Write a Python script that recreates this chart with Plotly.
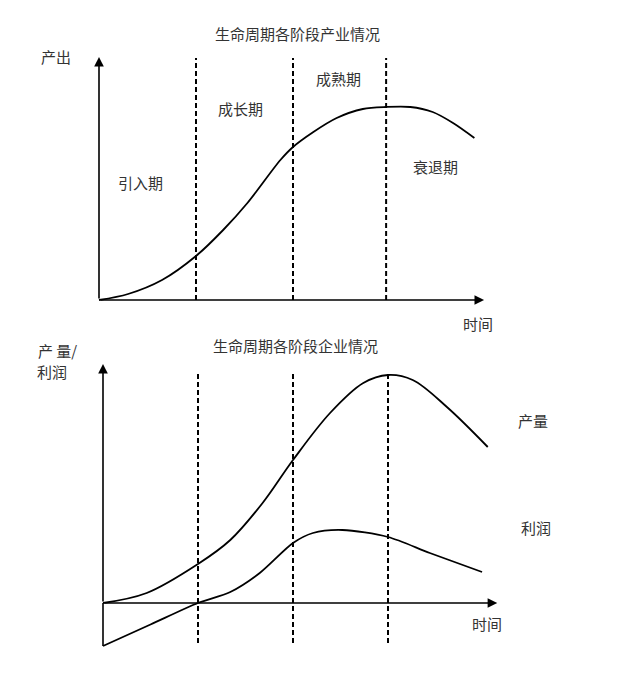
import plotly.graph_objects as go

# ---------------- data ----------------
# Top panel: industry output over the life cycle
top_t = [0, 0.30, 0.65, 1.0, 1.28, 1.53, 1.87, 2.0, 2.21, 2.45, 2.72, 2.96, 3.21, 3.44, 3.65, 3.87]
top_output = [0, 3, 10, 22, 35, 48.5, 70, 76.5, 84, 91, 95.5, 96.5, 96.5, 94, 88.5, 81]
top_bounds = [1.0, 2.0, 2.96]
top_stage_names = ["引入期", "成长期", "成熟期", "衰退期"]

# Bottom panel: enterprise output & profit
bot_t_out = [0, 0.46, 1.0, 1.34, 1.68, 2.0, 2.39, 2.74, 3.0, 3.26, 3.62, 4.05]
bot_output = [0, 5, 19.5, 31.5, 50, 71.5, 95, 110, 114, 111.5, 98, 78]
bot_t_profit = [0, 0.5, 1.0, 1.34, 1.65, 2.0, 2.21, 2.52, 3.0, 3.44, 3.99]
bot_profit = [-21.5, -10.75, 0, 5.5, 15, 30, 35, 36.5, 33, 25, 15.5]
bot_bounds = [1.0, 2.0, 3.0]

titles = ["生命周期各阶段产业情况", "生命周期各阶段企业情况"]

W, H = 639, 681
FONT = "Noto Sans CJK SC"
TXT = "#333333"

fig = go.Figure()

fig.add_trace(go.Scatter(x=top_t, y=top_output, mode="lines",
                         line=dict(color="black", width=1.8, shape="spline", smoothing=0.9),
                         xaxis="x", yaxis="y", hoverinfo="skip"))
fig.add_trace(go.Scatter(x=bot_t_out, y=bot_output, mode="lines",
                         line=dict(color="black", width=1.8, shape="spline", smoothing=1.0),
                         xaxis="x2", yaxis="y2", hoverinfo="skip"))
fig.add_trace(go.Scatter(x=bot_t_profit, y=bot_profit, mode="lines",
                         line=dict(color="black", width=1.8, shape="spline", smoothing=0.8),
                         xaxis="x2", yaxis="y2", hoverinfo="skip"))

for b in top_bounds:
    fig.add_trace(go.Scatter(x=[b, b], y=[0, 121], mode="lines",
                             line=dict(color="black", width=2, dash="5px,3px"),
                             xaxis="x", yaxis="y", hoverinfo="skip"))
for b in bot_bounds:
    fig.add_trace(go.Scatter(x=[b, b], y=[-20, 116], mode="lines",
                             line=dict(color="black", width=2, dash="5px,3px"),
                             xaxis="x2", yaxis="y2", hoverinfo="skip"))

ann = []
def arrow(x0, y0, x1, y1, xr, yr):
    ann.append(dict(x=x1, y=y1, ax=x0, ay=y0, xref=xr, yref=yr, axref=xr, ayref=yr,
                    showarrow=True, arrowhead=2, arrowsize=1.2, arrowwidth=1.6,
                    arrowcolor="black", text=""))

arrow(0, 0, 3.97, 0, "x", "y")
arrow(0, 0, 0, 121.5, "x", "y")
fig.add_trace(go.Scatter(x=[0, 0], y=[-21.5, 0], mode="lines",
                         line=dict(color="black", width=1.6),
                         xaxis="x2", yaxis="y2", hoverinfo="skip"))
arrow(0, 0, 4.15, 0, "x2", "y2")
arrow(0, 0, 0, 119.5, "x2", "y2")

def label(px, py, text, size=15):
    ann.append(dict(x=px / W, y=1 - py / H, xref="paper", yref="paper", text=text,
                    showarrow=False, font=dict(family=FONT, size=size, color=TXT),
                    xanchor="center", yanchor="middle"))

label(297, 33, titles[0])
label(56, 57, "产出")
label(140, 182, top_stage_names[0])
label(240, 108, top_stage_names[1])
label(338, 78, top_stage_names[2])
label(435, 166, top_stage_names[3])
label(478, 323, "时间")

label(295, 345, titles[1])
label(57, 350, "产 量/")
label(52, 371, "利润")
label(533, 420, "产量")
label(536, 527, "利润")
label(487, 623, "时间")

split = 1 - 330 / H
fig.update_layout(
    width=W, height=H, margin=dict(l=0, r=0, t=0, b=0),
    paper_bgcolor="white", plot_bgcolor="rgba(0,0,0,0)",
    showlegend=False,
    xaxis=dict(domain=[0, 1], range=[-99 / 97, (W - 99) / 97], visible=False, fixedrange=True),
    yaxis=dict(domain=[split, 1], anchor="x", range=[(300 - 330) / 2, 300 / 2], visible=False, fixedrange=True),
    xaxis2=dict(domain=[0, 1], range=[-103 / 95, (W - 103) / 95], visible=False, anchor="y2", fixedrange=True),
    yaxis2=dict(domain=[0, split], anchor="x2", range=[(603 - H) / 2, (603 - 330) / 2], visible=False, fixedrange=True),
    annotations=ann,
)

fig.write_html("out.html", config={"displayModeBar": False},
               post_script="document.body.style.margin='0px';")
